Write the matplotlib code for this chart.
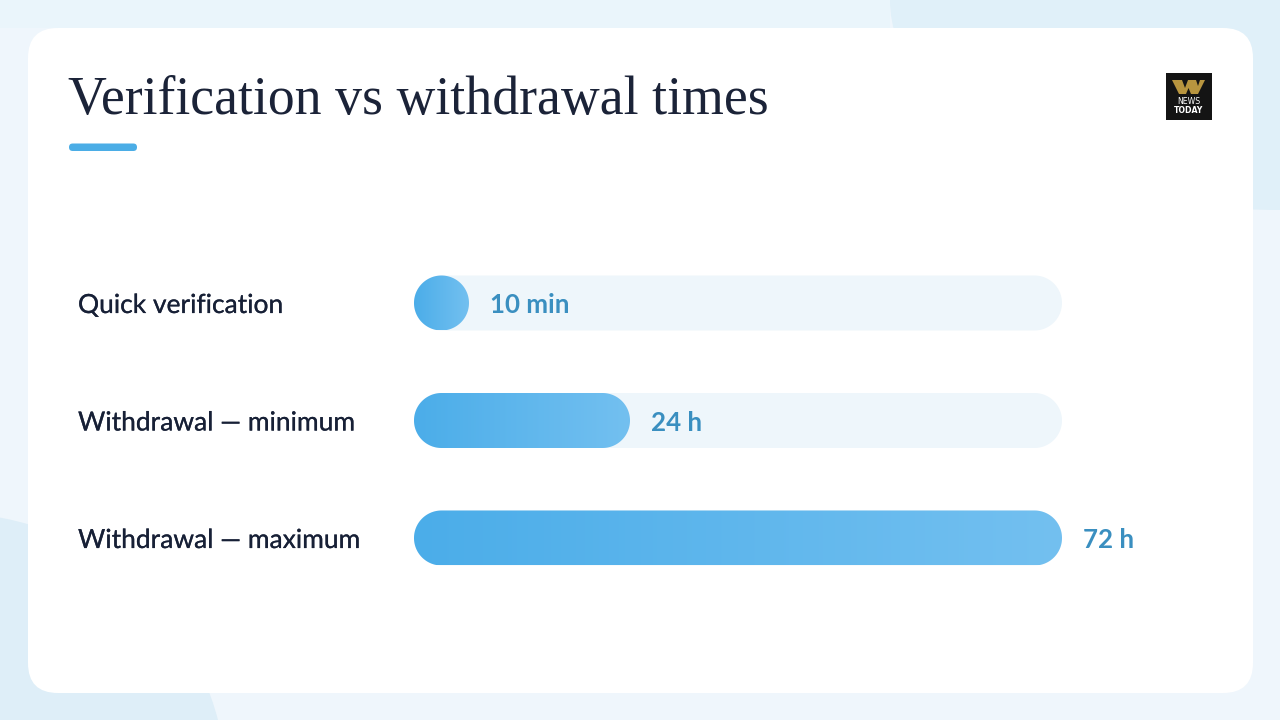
import numpy as np
import matplotlib
matplotlib.use("Agg")
import matplotlib.pyplot as plt
import matplotlib.patheffects as pe
from matplotlib.colors import LinearSegmentedColormap
from matplotlib.patches import Circle, Ellipse, FancyBboxPatch, Polygon, Rectangle

# chart values, all in hours
categories = ["Quick verification", "Withdrawal — minimum", "Withdrawal — maximum"]
hours = [10 / 60, 24, 72]
value_labels = ["10 min", "24 h", "72 h"]
title = "Verification vs withdrawal times"
axis_max = 72

W, H = 1280, 720
px_per_hour = 648 / axis_max
row_px = 117.5
bar_height = 55 / row_px
min_width = 55 / px_per_hour  # a bar is never shorter than a circle

gradient = LinearSegmentedColormap.from_list("bar", ["#4BADE9", "#73C0F0"])

fig = plt.figure(figsize=(W / 100, H / 100), dpi=100)
fig.patch.set_facecolor("#EFF6FC")

# background + card, in pixel coordinates
bg = fig.add_axes([0, 0, 1, 1])
bg.set_xlim(0, W)
bg.set_ylim(H, 0)
bg.axis("off")
bg.add_patch(Rectangle((0, 0), 890, 28, fc="#EAF5FB", ec="none"))
bg.add_patch(Ellipse((1280, 0), 780, 420, fc="#E0F0F9", ec="none"))
bg.add_patch(Circle((-50, 790), 277, fc="#DEEEF8", ec="none"))
bg.add_patch(FancyBboxPatch((28, 28), 1225, 665, boxstyle="round,pad=0,rounding_size=30",
                            fc="white", ec="none"))

# title and the small accent line under it
bg.text(68, 101, title, fontsize=38.7, family="Liberation Serif", color="#1B2338",
        va="center", ha="left")
bg.add_patch(FancyBboxPatch((69, 143.5), 68, 7.5, boxstyle="round,pad=0,rounding_size=3.7",
                            fc="#4BADE6", ec="none"))

# logo
bg.add_patch(Rectangle((1165.5, 73), 46.5, 47, fc="#141414", ec="none"))
bg.add_patch(Polygon([(1172, 80), (1182, 80), (1185, 88), (1188, 80), (1196, 80), (1198, 86),
                      (1200, 80), (1205, 80), (1198, 94), (1191, 94), (1188.5, 88), (1186, 94),
                      (1179, 94)], fc="#B8953F", ec="none"))
bg.text(1189, 101.5, "NEWS", fontsize=5.6, family="Liberation Sans Narrow",
        color="white", ha="center", va="center")
bg.text(1189, 110.5, "TODAY", fontsize=5.6, fontweight="bold", family="Liberation Sans Narrow",
        color="white", ha="center", va="center")

# bars
top = 303 - row_px / 2
ax = fig.add_axes([414 / W, 1 - (top + 3 * row_px) / H, 648 / W, 3 * row_px / H])
ax.patch.set_visible(False)
radius = 27.5 / px_per_hour


def pill(width, y, **kw):
    # two half circles joined up, radius in hours so it comes out round on screen
    t = np.linspace(np.pi / 2, 3 * np.pi / 2, 60)
    xs = np.r_[radius + radius * np.cos(t), width - radius - radius * np.cos(t)]
    ys = np.r_[y - bar_height / 2 * np.sin(t), y + bar_height / 2 * np.sin(t)]
    p = Polygon(np.c_[xs, ys], closed=True, ec="none", **kw)
    ax.add_patch(p)
    return p


for i, (v, lab) in enumerate(zip(hours, value_labels)):
    pill(axis_max, i, fc="#EEF6FB")
    width = max(v, min_width)
    shape = pill(width, i, fc="none")
    img = ax.imshow(np.linspace(0, 1, 256).reshape(1, -1), cmap=gradient, aspect="auto",
                    extent=(0, width, i + bar_height / 2, i - bar_height / 2), zorder=2)
    img.set_clip_path(shape)
    ax.annotate(lab, (width, i), xytext=(15, -1.5), textcoords="offset points",
                fontsize=18.6, fontweight="bold", family="Lato", color="#3A8FC0",
                va="center", ha="left", annotation_clip=False)

ax.set_xlim(0, axis_max)
ax.set_ylim(2.5, -0.5)
ax.set_xticks([])
ax.set_yticks(range(len(categories)))
ax.set_yticklabels(categories, fontsize=19, family="Lato", color="#172036", ha="left",
                   va="center_baseline",
                   path_effects=[pe.withStroke(linewidth=0.15, foreground="#172036")])
ax.tick_params(axis="y", length=0, pad=(414 - 78) * 0.72)
for s in ax.spines.values():
    s.set_visible(False)

fig.savefig("out.png", dpi=100)
